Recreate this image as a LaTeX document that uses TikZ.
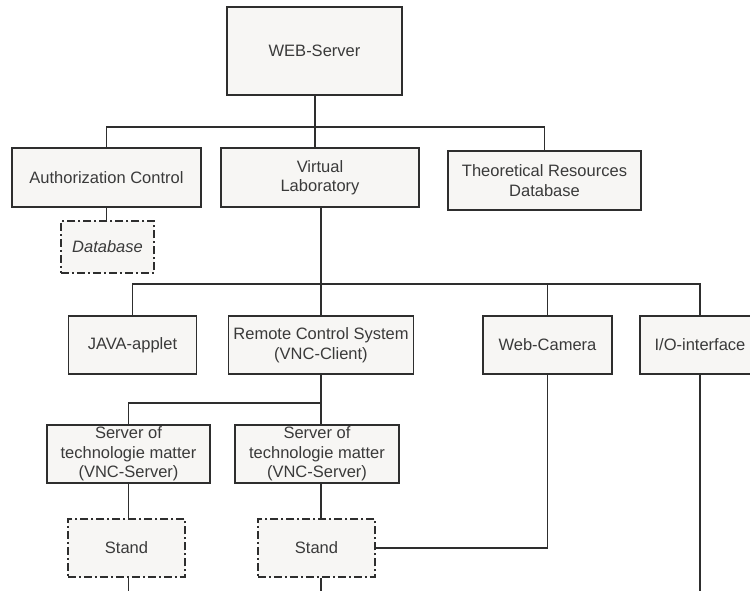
\documentclass[tikz,border=0pt]{standalone}
\usepackage{fontspec}
\setmainfont{Liberation Sans}
\definecolor{boxfill}{HTML}{F7F6F4}
\definecolor{linegray}{HTML}{2E2E2E}
\definecolor{textgray}{HTML}{3A3A3A}
\begin{document}
\begin{tikzpicture}[x=1pt,y=-1pt,
  every node/.style={font=\fontsize{16.5}{19.5}\selectfont, text=textgray},
  box/.style={draw=linegray, fill=boxfill, line width=1.4pt, inner sep=0pt, align=center},
  dbox/.style={box, dash pattern=on 8pt off 3pt on 2pt off 3pt},
  conn/.style={draw=linegray, line width=1.4pt}]
\useasboundingbox (0,0) rectangle (750,590);
\clip (0,0) rectangle (750,590);

\node[box, minimum width=175pt, minimum height=88pt] (web) at (314.5,51) {WEB-Server};
\node[box, minimum width=189pt, minimum height=59pt] (auth) at (106.5,177.5) {Authorization Control};
\node[box, minimum width=198pt, minimum height=59pt] (vl) at (320,177.5) {Virtual\\Laboratory};
\node[box, minimum width=193pt, minimum height=59pt] (trd) at (544.5,180.5) {Theoretical Resources\\Database};
\node[dbox, minimum width=93pt, minimum height=52pt] (db) at (107.5,247) {\itshape Database};

\node[box, minimum width=128pt, minimum height=58pt] (java) at (132.5,345) {JAVA-applet};
\node[box, minimum width=185pt, minimum height=58pt] (rcs) at (321,345) {Remote Control System\\(VNC-Client)};
\node[box, minimum width=129pt, minimum height=58pt] (cam) at (547.5,345) {Web-Camera};
\node[box, minimum width=120pt, minimum height=58pt] (io) at (700,345) {I/O-interface};

\node[box, minimum width=163pt, minimum height=58pt] (srv1) at (128.5,454) {Server of\\technologie matter\\(VNC-Server)};
\node[box, minimum width=164pt, minimum height=58pt] (srv2) at (317,454) {Server of\\technologie matter\\(VNC-Server)};
\node[dbox, minimum width=117pt, minimum height=58pt] (stand1) at (126.5,548) {Stand};
\node[dbox, minimum width=117pt, minimum height=58pt] (stand2) at (316.5,548) {Stand};

\coordinate (b1) at (315,127);
\coordinate (b2) at (321,284);
\coordinate (b3) at (321,403);
\coordinate (bottom) at (0,592);

% level 1 bus
\draw[conn] (web.south -| b1) -- (b1);
\draw[conn] (auth.north) |- (b1);
\draw[conn] (trd.north) |- (b1);
\draw[conn] (b1) -- (b1 |- vl.north);
\draw[conn] (auth.south) -- (auth.south |- db.north);

% level 2 bus
\draw[conn] (vl.south -| b2) -- (b2);
\draw[conn] (java.north) |- (b2);
\draw[conn] (cam.north) |- (b2);
\draw[conn] (io.north) |- (b2);
\draw[conn] (b2) -- (rcs.north);

% level 3 bus
\draw[conn] (rcs.south) -- (srv2.north -| rcs.south);
\draw[conn] (srv1.north) |- (b3);

% servers to stands
\draw[conn] (srv1.south) -- (srv1.south |- stand1.north);
\draw[conn] (srv2.south -| rcs.south) -- (stand2.north -| rcs.south);
\draw[conn] (srv1.south |- stand1.south) -- (srv1.south |- bottom);
\draw[conn] (stand2.south -| rcs.south) -- (rcs.south |- bottom);

% camera to stand, I/O down
\draw[conn] (cam.south) |- (stand2.east);
\draw[conn] (io.south) -- (io.south |- bottom);
\end{tikzpicture}
\end{document}
